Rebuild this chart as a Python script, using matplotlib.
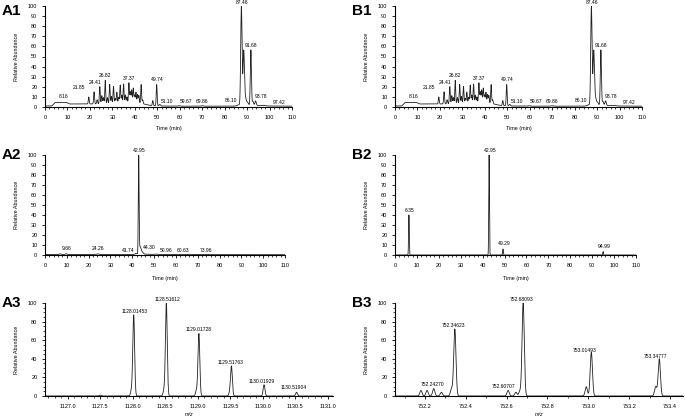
import numpy as np
import matplotlib
matplotlib.use("Agg")
import matplotlib.pyplot as plt
from matplotlib.ticker import MultipleLocator

plt.rcParams['font.family'] = ['Liberation Sans', 'DejaVu Sans']

# ---- chromatogram A1 / B1 (same trace) ----
base1_t = [0, 3, 4.5, 9.5, 11, 20, 30, 38, 44, 47, 52, 60, 84, 86.5, 95, 100, 110]
base1_y = [1, 1, 4.5, 4.5, 3, 3, 3.5, 4, 3, 1.5, 1, 0.8, 0.8, 1.5, 1.5, 1, 0.8]
pk1_t = [19.5, 21.85, 23.2, 24.41, 25.3, 26.0, 26.82, 27.8, 28.8, 29.6, 30.5, 31.3,
         32.0, 32.8, 33.5, 34.2, 35.0, 35.8, 36.5, 37.37, 38.0, 38.6, 39.3, 39.9,
         40.5, 41.2, 41.8, 42.8, 43.5, 48.0, 49.74, 51.1, 59.67, 69.86, 86.1,
         87.46, 88.5, 89.2, 90.2, 91.68, 92.6, 93.78, 97.42]
pk1_h = [7, 12, 4, 17, 8, 6, 23, 6, 19, 7, 17, 5,
         11, 6, 18, 8, 19, 8, 6, 20, 11, 13, 15, 8,
         11, 9, 8, 19, 4, 5, 21, 1.5, 0.5, 0.5, 0.8,
         98, 53, 8, 3, 55, 4, 4.5, 0.5]
pk1_w = [0.2] * 29 + [0.2, 0.2, 0.3, 0.5, 0.5, 0.4,
                      0.3, 0.3, 0.4, 0.4, 0.25, 0.3, 0.3, 0.5]
lab1_txt = ['8.16', '21.85', '24.41', '26.82', '37.37', '49.74', '51.10', '59.67',
            '69.86', '86.10', '87.46', '91.68', '93.78', '97.42']
lab1_x = [8.2, 15, 22.1, 26.7, 37.2, 49.9, 54.5, 62.6, 70, 82.8, 87.7, 91.8, 96.2, 104.2]
lab1_y = [10, 19, 24, 31, 28, 27, 5, 5, 5, 6, 103, 61, 10, 4]

# ---- chromatogram A2 ----
base2_t = [0, 40, 44, 46, 55, 110]
base2_y = [0.5, 0.5, 1.5, 0.8, 0.4, 0.3]
pk2_t = [7.0, 9.66, 24.26, 41.74, 42.95, 43.6, 44.3, 50.96, 60.63, 73.96]
pk2_h = [0.6, 0.8, 0.6, 0.8, 99, 6, 2.5, 0.3, 0.3, 0.3]
pk2_w = [0.4, 0.4, 0.5, 0.3, 0.18, 0.3, 0.5, 0.5, 0.5, 0.5]
lab2_txt = ['9.66', '24.26', '41.74', '42.95', '44.30', '50.96', '60.63', '73.96']
lab2_x = [9.8, 24.4, 38.3, 43.0, 47.8, 55.7, 63.4, 73.7]
lab2_y = [6, 6, 4, 104, 7, 4, 4, 4]

# ---- chromatogram B2 ----
pk3_t = [6.35, 42.95, 49.29, 94.99]
pk3_h = [40, 100, 6, 3.5]
pk3_w = [0.15, 0.15, 0.15, 0.15]
lab3_txt = ['6.35', '42.95', '49.29', '94.99']
lab3_x = [6.5, 43.5, 49.7, 95.4]
lab3_y = [44, 104, 11, 8]

# ---- spectrum A3 ----
mz4 = [1127.5, 1127.98, 1128.0145, 1128.48, 1128.5161, 1128.98, 1129.0173,
       1129.49, 1129.5176, 1130.0193, 1130.519]
in4 = [1, 6, 87, 6, 100, 6, 67, 3, 32, 12, 4]
lab4_txt = ['1128.01453', '1128.51612', '1129.01728', '1129.51763', '1130.01929', '1130.51904']
lab4_x = [1128.035, 1128.53, 1129.02, 1129.50, 1129.99, 1130.48]
lab4_y = [91, 104, 72, 36, 16, 9]

# ---- spectrum B3 ----
mz5 = [752.18, 752.21, 752.2427, 752.28, 752.33, 752.3462, 752.6071, 752.645,
       752.665, 752.6809, 752.99, 753.0149, 753.33, 753.3478]
in5 = [6, 6, 8, 4, 8, 72, 6, 4, 5, 100, 10, 47, 10, 40]
lab5_txt = ['752.24270', '752.34623', '752.60707', '752.68093', '753.01493', '753.34777']
lab5_x = [752.239, 752.34, 752.583, 752.674, 752.98, 753.33]
lab5_y = [12, 76, 10, 104, 49, 43]

W, H = 685, 420
fig = plt.figure(figsize=(W / 100, H / 100), dpi=100)


def trace(x, centers, heights, widths, base=None):
    y = np.zeros_like(x) if base is None else base.copy()
    for c, h, w in zip(centers, heights, widths):
        y += h * np.exp(-0.5 * ((x - c) / w) ** 2)
    return y


def make_ax(px_left, px_bottom, px_w, px_h):
    ax = fig.add_axes([px_left / W, 1 - px_bottom / H, px_w / W, px_h / H])
    for s in ['top', 'right']:
        ax.spines[s].set_visible(False)
    for s in ['left', 'bottom']:
        ax.spines[s].set_linewidth(0.8)
    ax.tick_params(which='major', direction='out', length=2.5, width=0.6,
                   labelsize=4, pad=3)
    ax.tick_params(which='minor', direction='out', length=1.5, width=0.5)
    ax.set_ylabel('Relative Abundance', fontsize=3.9)
    ax.yaxis.set_label_coords(-26 / px_w, 0.5)
    return ax


def labels(ax, txt, xs, ys):
    for s, x, y in zip(txt, xs, ys):
        ax.text(x, y, s, fontsize=3.6, ha='center', va='center', clip_on=False)


def chrom_axes(ax, px_h, lab_gap):
    ax.set_xlim(0, 110)
    ax.set_ylim(0, 100)
    ax.xaxis.set_major_locator(MultipleLocator(10))
    ax.xaxis.set_minor_locator(MultipleLocator(2))
    ax.yaxis.set_major_locator(MultipleLocator(10))
    ax.set_xlabel('Time (min)', fontsize=3.9)
    ax.xaxis.set_label_coords(0.5, -lab_gap / px_h)


t = np.linspace(0, 110, 11001)
y1 = trace(t, pk1_t, pk1_h, pk1_w, np.interp(t, base1_t, base1_y))
y2 = trace(t, pk2_t, pk2_h, pk2_w, np.interp(t, base2_t, base2_y))
y3 = trace(t, pk3_t, pk3_h, pk3_w)

# row 1
for left, tag in [(45, 'A1'), (395, 'B1')]:
    ax = make_ax(left, 107, 247, 101)
    ax.plot(t, y1, color='#222222', lw=0.6)
    chrom_axes(ax, 101, 19)
    labels(ax, lab1_txt, lab1_x, lab1_y)
    fig.text((left - 43) / W, 1 - 11 / H, tag, fontsize=11, fontweight='bold',
             va='center', ha='left')

# row 2
ax = make_ax(45, 255, 240, 100)
ax.plot(t, y2, color='#222222', lw=0.6)
chrom_axes(ax, 100, 21)
labels(ax, lab2_txt, lab2_x, lab2_y)
fig.text(2 / W, 1 - 155 / H, 'A2', fontsize=11, fontweight='bold', va='center')

ax = make_ax(395, 255, 241, 100)
ax.plot(t, y3, color='#222222', lw=0.6)
chrom_axes(ax, 100, 21)
labels(ax, lab3_txt, lab3_x, lab3_y)
fig.text(352 / W, 1 - 155 / H, 'B2', fontsize=11, fontweight='bold', va='center')

# row 3
m4 = np.linspace(1126.65, 1131.08, 8000)
s4 = trace(m4, mz4, in4, [0.014] * len(mz4))
ax = make_ax(45, 396, 288, 93)
ax.plot(m4, s4, color='#222222', lw=0.6)
ax.set_xlim(1126.65, 1131.08)
ax.set_ylim(0, 100)
ax.xaxis.set_major_locator(MultipleLocator(0.5))
ax.xaxis.set_minor_locator(MultipleLocator(0.1))
ax.yaxis.set_major_locator(MultipleLocator(20))
ax.yaxis.set_minor_locator(MultipleLocator(5))
ax.xaxis.set_major_formatter(matplotlib.ticker.FormatStrFormatter('%.1f'))
ax.set_xlabel('m/z', fontsize=3.9, style='italic')
ax.xaxis.set_label_coords(0.5, -16 / 93)
labels(ax, lab4_txt, lab4_x, lab4_y)
fig.text(2 / W, 1 - 303 / H, 'A3', fontsize=11, fontweight='bold', va='center')

m5 = np.linspace(752.053, 753.464, 8000)
s5 = trace(m5, mz5, in5, [0.0055] * len(mz5))
ax = make_ax(395, 396, 288, 93)
ax.plot(m5, s5, color='#222222', lw=0.6)
ax.set_xlim(752.053, 753.464)
ax.set_ylim(0, 100)
ax.xaxis.set_major_locator(MultipleLocator(0.2))
ax.xaxis.set_minor_locator(MultipleLocator(0.1))
ax.yaxis.set_major_locator(MultipleLocator(20))
ax.yaxis.set_minor_locator(MultipleLocator(5))
ax.xaxis.set_major_formatter(matplotlib.ticker.FormatStrFormatter('%.1f'))
ax.set_xlabel('m/z', fontsize=3.9, style='italic')
ax.xaxis.set_label_coords(0.5, -16 / 93)
labels(ax, lab5_txt, lab5_x, lab5_y)
fig.text(352 / W, 1 - 303 / H, 'B3', fontsize=11, fontweight='bold', va='center')

fig.savefig('out.png', dpi=100)
